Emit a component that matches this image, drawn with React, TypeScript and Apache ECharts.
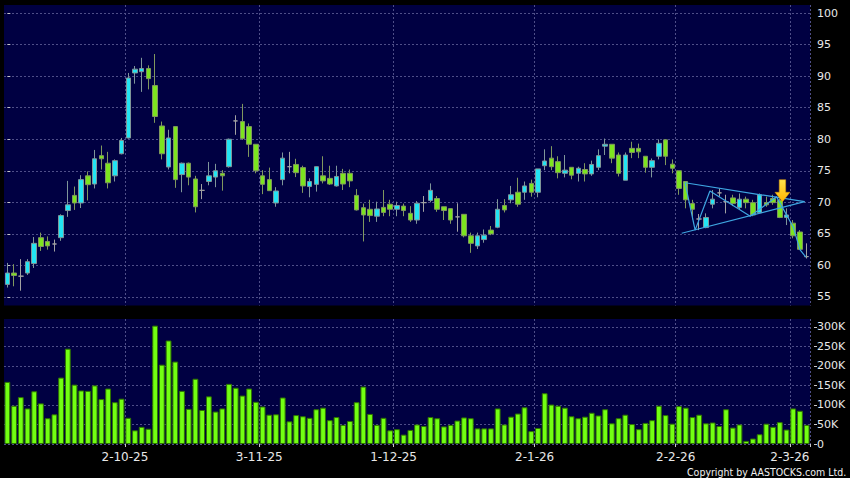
import React, { useEffect, useRef } from 'react';
import * as echarts from 'echarts';

const dates = [
  '5-9-25','8-9-25','9-9-25','10-9-25','11-9-25','12-9-25','15-9-25','16-9-25','17-9-25','18-9-25','19-9-25','22-9-25','23-9-25','24-9-25','25-9-25','26-9-25','29-9-25','30-9-25',
  '2-10-25','3-10-25','6-10-25','8-10-25','9-10-25','10-10-25','13-10-25','14-10-25','15-10-25','16-10-25','17-10-25','20-10-25','21-10-25','22-10-25','23-10-25','24-10-25','27-10-25','28-10-25','30-10-25','31-10-25',
  '3-11-25','4-11-25','5-11-25','6-11-25','7-11-25','10-11-25','11-11-25','12-11-25','13-11-25','14-11-25','17-11-25','18-11-25','19-11-25','20-11-25','21-11-25','24-11-25','25-11-25','26-11-25','27-11-25','28-11-25',
  '1-12-25','2-12-25','3-12-25','4-12-25','5-12-25','8-12-25','9-12-25','10-12-25','11-12-25','12-12-25','15-12-25','16-12-25','17-12-25','18-12-25','19-12-25','22-12-25','23-12-25','24-12-25','29-12-25','30-12-25','31-12-25',
  '2-1-26','5-1-26','6-1-26','7-1-26','8-1-26','9-1-26','12-1-26','13-1-26','14-1-26','15-1-26','16-1-26','19-1-26','20-1-26','21-1-26','22-1-26','23-1-26','26-1-26','27-1-26','28-1-26','29-1-26','30-1-26',
  '2-2-26','3-2-26','4-2-26','5-2-26','6-2-26','9-2-26','10-2-26','11-2-26','12-2-26','13-2-26','16-2-26','20-2-26','23-2-26','24-2-26','25-2-26','26-2-26','27-2-26',
  '2-3-26','3-3-26','4-3-26',
];

const labeledDates = ['2-10-25', '3-11-25', '1-12-25', '2-1-26', '2-2-26', '2-3-26'];

const opens = [
  57.0,58.8,58.3,58.8,60.3,64.4,63.8,63.4,64.4,68.7,
  71.1,69.9,74.2,72.9,77.4,76.2,74.2,77.7,80.2,90.5,
  90.7,91.2,88.5,82.1,75.6,82.0,74.4,76.2,73.7,71.9,
  73.3,74.0,74.6,75.65,82.9,82.8,82.0,79.2,74.2,73.6,
  69.9,73.6,75.65,76.0,75.5,72.5,72.85,74.2,73.8,72.6,
  74.6,74.6,71.1,69.15,68.9,67.8,69.2,69.7,68.9,69.4,
  68.26,67.2,69.95,70.3,70.6,69.3,69.0,67.7,68.1,64.7,
  63.1,64.1,65.6,66.05,69.5,70.4,71.6,71.6,73.0,71.6,
  75.8,77.0,76.45,74.6,75.55,74.6,75.2,74.5,75.55,78.9,
  79.2,77.5,73.5,78.55,78.55,77.3,75.55,77.3,79.9,76.05,
  75.0,73.3,69.8,67.36,66.0,69.7,71.5,70.1,70.7,69.2,
  70.5,69.95,68.35,69.95,70.6,70.3,67.6,66.7,65.3,61.4,
];

const closes = [
  58.8,58.4,58.3,60.6,63.5,63.0,63.1,63.4,67.9,69.6,
  69.9,73.6,72.8,76.9,76.9,73.1,76.6,79.8,89.7,91.1,
  91.2,89.6,83.6,77.7,80.2,73.6,76.2,74.0,69.3,71.9,
  74.2,75.0,74.2,80.0,82.9,80.1,79.2,75.0,72.85,71.85,
  71.8,77.0,75.65,74.7,72.6,73.3,75.65,73.4,72.9,74.1,
  72.9,73.4,68.8,68.0,67.9,68.95,68.4,68.9,69.5,68.7,
  67.2,69.85,69.95,71.9,68.9,68.7,67.2,67.7,64.7,63.5,
  64.7,64.8,65.0,68.9,68.8,71.2,69.7,72.6,71.6,75.3,
  76.55,75.65,74.7,75.1,74.3,75.4,74.5,76.0,77.4,79.2,
  77.0,74.6,77.5,77.9,78.0,75.55,76.6,79.35,77.3,75.4,
  72.2,70.4,68.9,67.36,67.6,70.5,71.5,70.1,69.8,70.5,
  69.95,68.0,71.2,69.6,69.95,67.6,68.0,64.7,62.55,61.4,
];

const lows = [
  56.5,56.7,56.0,58.5,59.6,62.3,62.5,62.2,63.9,67.7,
  68.8,69.1,70.3,72.2,75.2,72.2,73.3,77.6,80.1,88.8,
  87.5,87.9,82.6,76.8,75.2,72.3,71.6,72.7,68.4,70.5,
  72.7,72.4,71.85,75.5,80.7,79.9,77.2,74.6,71.3,71.8,
  69.3,72.7,74.6,74.0,71.5,70.8,71.7,73.0,72.75,72.5,
  71.95,72.4,68.7,63.8,66.9,66.9,67.8,67.8,67.8,67.8,
  66.9,66.6,68.5,70.0,68.5,67.2,66.6,65.35,64.45,62.0,
  62.6,63.6,64.8,65.9,68.4,69.85,69.3,70.4,70.9,70.8,
  75.1,75.1,73.8,73.95,73.65,73.3,73.3,74.2,75.1,77.5,
  76.2,74.1,73.5,77.0,77.0,74.7,73.95,76.8,75.9,74.6,
  71.2,69.05,67.3,65.6,65.9,69.05,70.9,68.25,69.4,68.8,
  69.05,67.8,68.25,69.3,69.6,67.5,66.4,64.3,62.45,61.1,
];

const highs = [
  60.4,60.2,61.0,61.0,64.5,65.2,64.6,64.1,68.1,73.4,
  72.5,74.3,74.9,78.3,79.0,78.0,76.8,80.2,90.5,91.6,
  92.9,91.7,93.5,82.8,81.5,82.0,76.3,76.3,74.2,72.9,
  76.4,76.1,75.1,80.1,83.8,85.6,82.5,79.2,75.1,75.5,
  72.4,77.9,78.0,76.9,75.8,73.8,75.7,77.3,75.8,75.8,
  75.3,75.2,72.1,69.8,70.4,70.1,71.95,70.4,70.1,69.8,
  69.4,70.2,71.0,73.0,71.0,69.3,69.0,69.85,68.1,65.2,
  65.2,65.7,66.25,70.5,70.5,72.6,73.9,73.3,73.6,75.3,
  78.4,78.9,77.3,77.5,75.55,75.65,76.2,76.6,78.4,80.1,
  79.2,77.9,77.9,79.6,79.3,77.3,76.95,79.98,80.0,76.8,
  75.0,73.3,70.4,68.15,68.25,71.95,72.2,71.2,71.2,71.4,
  70.9,70.4,71.4,70.9,71.2,70.6,69.05,67.2,65.6,63.5,
];

const volumes = [
  159000,98000,120000,91000,135000,104000,66000,76000,170000,244000,
  152000,137000,136000,150000,115000,142000,107000,116000,67000,35000,
  44000,39000,303000,203000,265000,211000,136000,90000,167000,87000,
  122000,83000,91000,154000,144000,124000,142000,108000,96000,75000,
  76000,119000,58000,74000,71000,67000,89000,93000,61000,69000,
  49000,59000,107000,147000,77000,49000,67000,35000,38000,24000,
  36000,50000,46000,69000,66000,45000,49000,60000,68000,66000,
  40000,40000,40000,91000,50000,70000,78000,94000,33000,41000,
  130000,101000,98000,93000,71000,66000,70000,80000,73000,89000,
  53000,66000,75000,51000,38000,54000,61000,98000,74000,52000,
  97000,93000,69000,75000,53000,55000,46000,89000,42000,50000,
  8000,14000,25000,52000,44000,56000,37000,91000,85000,49000,
];

const priceTicks = [55, 60, 65, 70, 75, 80, 85, 90, 95, 100];
const volumeTicks = [0, 50000, 100000, 150000, 200000, 250000, 300000];

// pattern annotation (x in candle-index units, y in price)
const triangleUpper = [[100.9, 73.1], [118.7, 70.1]];
const triangleLower = [[100.4, 65.1], [118.7, 70.1]];
const zigzag = [[100.9, 73.1], [102.4, 65.6], [104.6, 71.8], [110.6, 67.8], [114.5, 70.9], [117.0, 66.1], [118.0, 62.5], [118.9, 61.3]];
const arrowPoint = [115.4, 70.1];

// layout constants
const PRICE_MIN = 55 - 8.5 / 6.311;
const PRICE_MAX = 100 + 8 / 6.311;
const VOL_MAX = 320000;

const GRID_COLOR = '#4e4e88';
const TEXT_COLOR = '#e8e8e8';
const FONT = 'DejaVu Sans';

export default function App() {
  const ref = useRef<HTMLDivElement>(null);
  useEffect(() => {
    if (!ref.current) return;
    const chart = echarts.init(ref.current, null, { renderer: 'svg' });
    const labelSet = new Set(labeledDates);
    const isLabeled = (_i: number, v: string) => labelSet.has(v);
    const dashed = { color: GRID_COLOR, type: [2, 2] as any, width: 1 };
    const lineStyle = { color: '#3ea6e2', width: 1.2 };

    chart.setOption({
      animation: false,
      backgroundColor: '#000000',
      textStyle: { fontFamily: FONT },
      grid: [
        { left: 4, right: 40, top: 5, height: 300.5, show: true, backgroundColor: '#000042', borderWidth: 0, outerBoundsMode: 'none' },
        { left: 4, right: 40, top: 319, bottom: 34, show: true, backgroundColor: '#000042', borderWidth: 0, outerBoundsMode: 'none' },
      ],
      xAxis: [
        {
          type: 'category', gridIndex: 0, data: dates,
          axisLine: { show: false }, axisTick: { show: false }, axisLabel: { show: false },
          splitLine: { show: true, interval: isLabeled, lineStyle: dashed },
        },
        {
          type: 'category', gridIndex: 1, data: dates, offset: 2,
          axisLine: { show: false },
          axisTick: { show: true, length: 3, interval: isLabeled, lineStyle: { color: '#c8c8c8' } },
          axisLabel: { interval: isLabeled, color: TEXT_COLOR, fontSize: 12, margin: 5, fontFamily: FONT, padding: [0, 6.7, 0, 0] },
          splitLine: { show: true, interval: isLabeled, lineStyle: dashed },
        },
        { type: 'value', gridIndex: 0, min: -0.5, max: dates.length - 0.5, show: false },
      ],
      yAxis: [
        {
          type: 'value', gridIndex: 0, position: 'right', min: PRICE_MIN, max: PRICE_MAX, offset: 4,
          axisLine: { show: false },
          axisTick: { show: true, length: 3, customValues: priceTicks, lineStyle: { color: '#c8c8c8' } },
          axisLabel: { customValues: priceTicks, color: TEXT_COLOR, fontSize: 11, margin: 3, fontFamily: FONT },
          splitLine: { show: true, lineStyle: dashed },
        },
        {
          type: 'value', gridIndex: 1, position: 'right', min: 0, max: VOL_MAX, offset: 4,
          axisLine: { show: false },
          axisTick: { show: true, length: 3, customValues: volumeTicks, lineStyle: { color: '#c8c8c8' } },
          axisLabel: {
            customValues: volumeTicks, color: TEXT_COLOR, fontSize: 11, margin: 3, fontFamily: FONT,
            formatter: (v: number) => (v === 0 ? '0' : v / 1000 + 'K'),
          },
          splitLine: { show: true, lineStyle: dashed },
        },
      ],
      series: [
        {
          type: 'candlestick', xAxisIndex: 0, yAxisIndex: 0,
          data: opens.map((o, i) => [o, closes[i], lows[i], highs[i]]),
          barWidth: 5,
          itemStyle: {
            color: '#22e4f3', color0: '#7ce41f',
            borderColor: '#7f9699', borderColor0: '#80985e', borderColorDoji: '#a2a2a2', borderWidth: 1,
          },
        },
        {
          type: 'bar', xAxisIndex: 1, yAxisIndex: 1, data: volumes,
          barCategoryGap: '14%',
          itemStyle: { color: '#72ff12', borderColor: '#2f7400', borderWidth: 1 },
        },
        { type: 'line', xAxisIndex: 2, yAxisIndex: 0, data: triangleUpper, symbol: 'none', lineStyle, z: 5 },
        { type: 'line', xAxisIndex: 2, yAxisIndex: 0, data: triangleLower, symbol: 'none', lineStyle, z: 5 },
        { type: 'line', xAxisIndex: 2, yAxisIndex: 0, data: zigzag, symbol: 'none', lineStyle, z: 5 },
        {
          type: 'scatter', xAxisIndex: 2, yAxisIndex: 0, data: [arrowPoint], z: 10,
          symbol: 'path://M4,0 L10,0 L10,12 L14,12 L7,21 L0,12 L4,12 Z',
          symbolSize: [15, 22], symbolOffset: [0, '-50%'],
          itemStyle: {
            opacity: 1,
            color: new echarts.graphic.LinearGradient(0, 0, 0, 1, [
              { offset: 0, color: '#ffe44c' },
              { offset: 1, color: '#ffb400' },
            ]),
            borderColor: '#e09a00', borderWidth: 0.5,
          },
        },
      ],
      graphic: [
        {
          type: 'text', x: 687, y: 471.5, scaleX: 0.86,
          style: { text: 'Copyright by AASTOCKS.com Ltd.', fill: '#f0f0f0', fontSize: 11, fontFamily: FONT, verticalAlign: 'middle' },
        },
      ],
    });
    return () => chart.dispose();
  }, []);
  return <div ref={ref} style={{ position: 'fixed', left: 0, top: 0, width: 850, height: 478, background: '#000' }} />;
}
